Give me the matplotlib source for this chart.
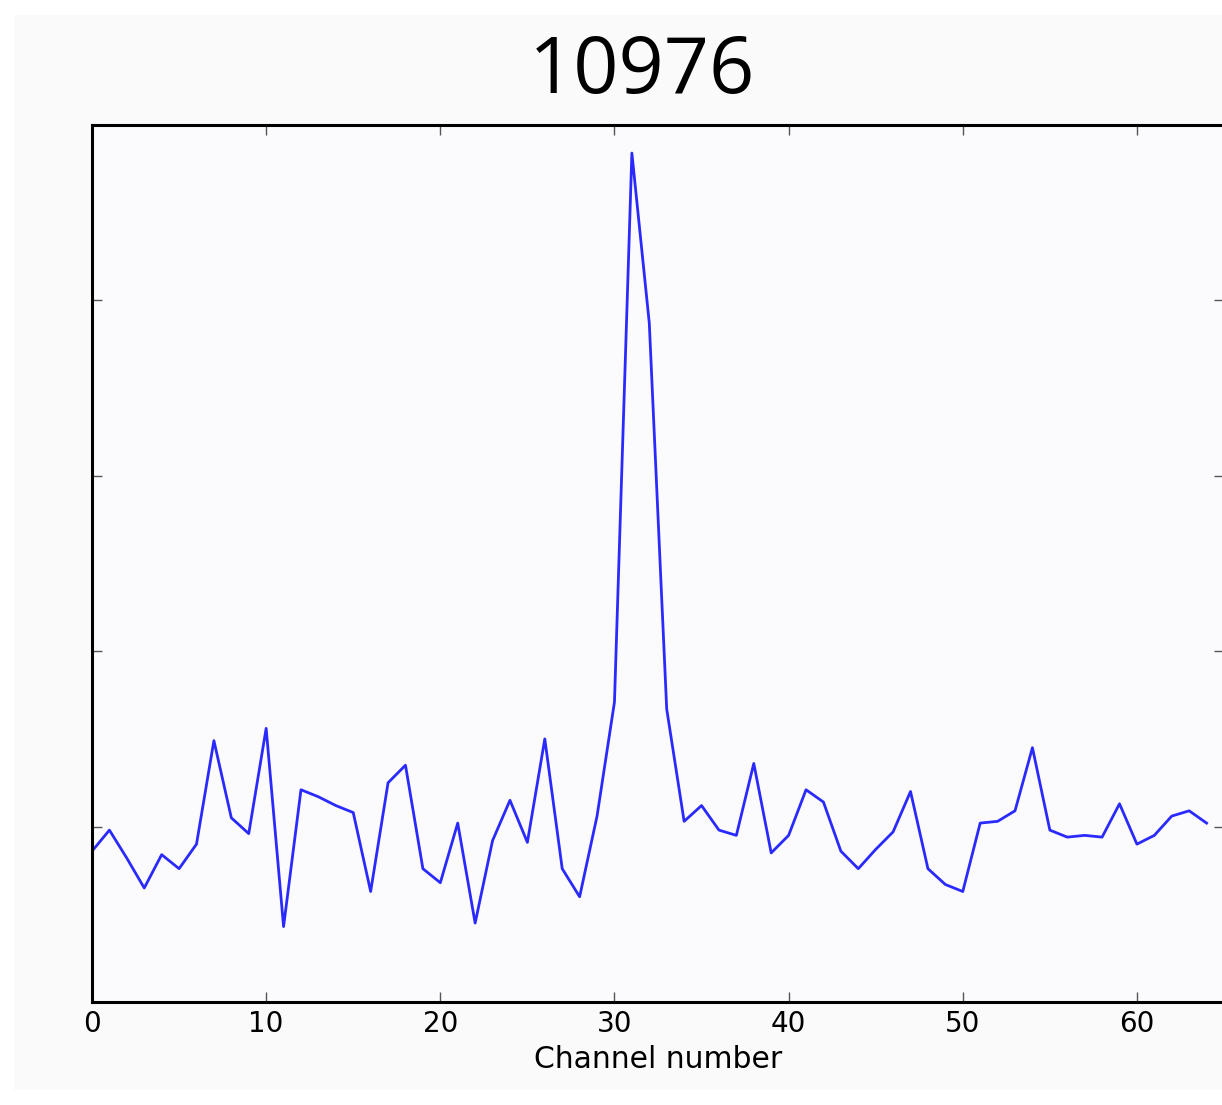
import matplotlib
matplotlib.use("Agg")
import matplotlib.pyplot as plt
import numpy as np
from matplotlib.patches import Rectangle

title = "10976"
xlabel = "Channel number"
channels = list(range(65))
# intensity per channel (arbitrary units, y ticks at 1..4)
intensity = [0.86, 0.98, 0.82, 0.65, 0.84, 0.76, 0.90, 1.49, 1.05, 0.96,
             1.56, 0.43, 1.21, 1.17, 1.12, 1.08, 0.63, 1.25, 1.35, 0.76,
             0.68, 1.02, 0.45, 0.92, 1.15, 0.91, 1.50, 0.76, 0.60, 1.06,
             1.71, 4.84, 3.87, 1.67, 1.03, 1.12, 0.98, 0.95, 1.36, 0.85,
             0.95, 1.21, 1.14, 0.86, 0.76, 0.87, 0.97, 1.20, 0.76, 0.67,
             0.63, 1.02, 1.03, 1.09, 1.45, 0.98, 0.94, 0.95, 0.94, 1.13,
             0.90, 0.95, 1.06, 1.09, 1.02]
xticks = [0, 10, 20, 30, 40, 50, 60]
yticks = [1, 2, 3, 4]

W, H = 1222, 1105
fig = plt.figure(figsize=(W / 100, H / 100), dpi=100, facecolor="white")
# light grey canvas behind everything
fig.patches.append(Rectangle((14 / W, 1 - 1090 / H), 1.2, (1090 - 15) / H,
                             transform=fig.transFigure, facecolor="#fafafa",
                             edgecolor="none", zorder=-10))

ax = fig.add_axes([92 / W, 103 / H, 1132 / W, 877 / H])
ax.set_facecolor("#fbfbfd")
ax.plot(channels, intensity, color="#2a2aff", lw=2)
ax.set_xlim(0, 65)
ax.set_ylim(0, 5)
ax.set_xticks(xticks)
ax.set_yticks(yticks)
ax.set_yticklabels([])
ax.tick_params(direction="in", length=7, width=1, color="#555555",
               top=True, right=True, labelsize=20, pad=6)
for s in ax.spines.values():
    s.set_linewidth(2.2)
ax.set_xlabel(xlabel, fontsize=21.5, labelpad=5)

fig.text(642 / W, 1 - 72 / H, title, fontsize=57, family="Open Sans",
         ha="center", va="center")

fig.savefig("out.png", dpi=100, facecolor=fig.get_facecolor())
